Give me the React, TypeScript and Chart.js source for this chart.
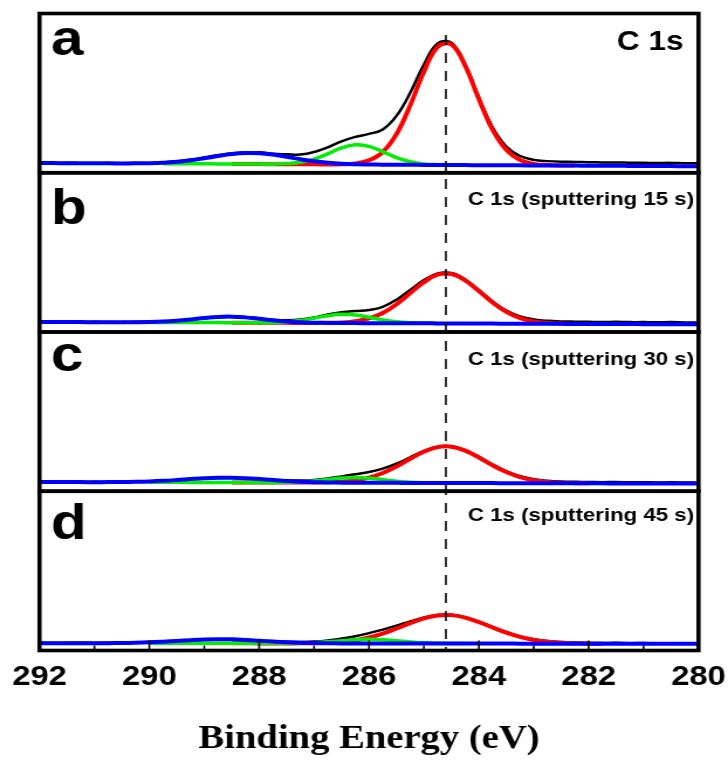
import React, { useEffect, useRef } from "react";
import { Chart, registerables } from "chart.js";
Chart.register(...registerables);

const N = null;

const energy = [292, 291.75, 291.5, 291.25, 291, 290.75, 290.5, 290.25, 290, 289.75, 289.5, 289.25, 289, 288.75, 288.5, 288.25, 288, 287.75, 287.5, 287.25, 287, 286.75, 286.5, 286.25, 286, 285.75, 285.5, 285.25, 285, 284.75, 284.5, 284.25, 284, 283.75, 283.5, 283.25, 283, 282.75, 282.5, 282.25, 282, 281.75, 281.5, 281.25, 281, 280.75, 280.5, 280.25, 280];

// Panel a
const blackA = [6.3, 5.9, 6.2, 6.0, 5.8, 6.1, 6.0, 6.1, 6.0, 6.5, 7.2, 8.1, 9.6, 11.0, 12.2, 12.6, 12.8, 11.9, 11.6, 11.4, 13.0, 16.0, 19.7, 22.5, 24.4, 27.2, 35.7, 50.2, 68.0, 81.2, 81.6, 68.2, 47.3, 28.5, 16.4, 10.5, 8.1, 7.3, 6.9, 6.8, 6.6, 6.5, 6.5, 6.3, 6.3, 6.1, 6.2, 6.0, 6.0];
const redA = [N, N, N, N, N, N, N, N, N, N, N, N, N, N, 5.52, 5.48, 5.43, 5.4, 5.35, 5.3, 5.27, 5.25, 5.3, 5.8, 7.8, 13.0, 24.2, 42.3, 63.4, 79.0, 80.5, 67.2, 46.3, 27.0, 14.4, 8.0, 5.6, 4.8, 4.55, 4.5, N, N, N, N, N, N, N, N, N];
const greenA = [N, N, N, N, N, N, N, N, N, 5.7, 5.7, 5.6, 5.6, 5.55, 5.5, 5.45, 5.45, 5.4, 5.75, 6.55, 8.57, 11.9, 15.6, 17.55, 16.6, 13.25, 9.5, 6.9, 5.55, 5.05, 4.85, N, N, N, N, N, N, N, N, N, N, N, N, N, N, N, N, N, N];
const blueA = [6.1, 6.06, 6.02, 5.98, 5.93, 5.9, 5.85, 5.9, 6.03, 6.33, 6.88, 7.84, 9.1, 10.5, 11.7, 12.4, 12.3, 11.4, 10.0, 8.5, 7.23, 6.29, 5.69, 5.36, 5.18, 5.05, 5.02, 4.98, 4.93, 4.9, 4.85, 4.8, 4.77, 4.73, 4.68, 4.64, 4.6, 4.56, 4.52, 4.48, 4.43, 4.39, 4.35, 4.31, 4.27, 4.23, 4.18, 4.14, 4.1];

// Panel b
const blackB = [6.5, 6.3, 6.4, 6.2, 6.4, 6.3, 6.2, 6.4, 6.4, 6.7, 7.1, 7.9, 8.7, 9.3, 9.5, 9.2, 8.5, 7.6, 7.4, 7.8, 9.1, 11.0, 12.4, 13.2, 13.8, 15.8, 20.3, 26.4, 32.6, 36.8, 37.0, 33.0, 26.3, 19.2, 13.4, 9.8, 7.9, 7.0, 6.6, 6.5, 6.4, 6.3, 6.4, 6.2, 6.2, 6.1, 6.2, 6.0, 6.0];
const redB = [N, N, N, N, N, N, N, N, N, N, N, N, N, N, 5.85, 5.83, 5.8, 5.77, 5.74, 5.71, 5.7, 5.77, 6.0, 6.77, 8.5, 11.9, 17.4, 24.4, 31.3, 36.0, 36.4, 32.4, 25.7, 18.5, 12.6, 8.7, 6.6, 5.65, 5.27, 5.08, 5.05, N, N, N, N, N, N, N, N];
const greenB = [N, N, N, N, N, N, N, N, 6.05, 6.02, 5.99, 5.96, 5.93, 5.89, 5.86, 5.83, 5.84, 5.96, 6.34, 7.24, 8.68, 10.24, 11.08, 10.66, 9.22, 7.58, 6.39, 5.77, 5.51, 5.4, N, N, N, N, N, N, N, N, N, N, N, N, N, N, N, N, N, N, N];
const blueB = [6.3, 6.27, 6.24, 6.21, 6.18, 6.15, 6.11, 6.15, 6.25, 6.53, 7.08, 7.88, 8.8, 9.49, 9.65, 9.18, 8.3, 7.33, 6.56, 6.07, 5.82, 5.68, 5.61, 5.58, 5.55, 5.52, 5.49, 5.46, 5.43, 5.4, 5.36, 5.33, 5.3, 5.27, 5.24, 5.2, 5.18, 5.15, 5.11, 5.08, 5.05, 5.02, 4.99, 4.96, 4.93, 4.89, 4.86, 4.83, 4.8];

// Panel c
const blackC = [6.0, 5.8, 5.9, 5.7, 5.9, 5.8, 5.9, 6.0, 6.1, 6.6, 7.0, 7.5, 8.0, 8.3, 8.4, 8.1, 7.7, 7.2, 6.8, 6.7, 7.1, 8.0, 9.3, 10.7, 12.1, 14.2, 17.3, 21.3, 25.3, 28.0, 28.2, 25.8, 21.6, 16.8, 12.5, 9.5, 7.6, 6.6, 6.1, 5.9, 5.8, 5.7, 5.8, 5.6, 5.7, 5.5, 5.6, 5.5, 5.4];
const redC = [N, N, N, N, N, N, N, N, N, N, N, N, N, N, 5.51, 5.49, 5.47, 5.45, 5.45, 5.43, 5.45, 5.59, 5.98, 6.88, 8.61, 11.49, 15.56, 20.37, 24.82, 27.7, 27.98, 25.55, 21.23, 16.31, 12.04, 8.87, 6.87, 5.81, 5.31, 5.08, 4.97, N, N, N, N, N, N, N, N];
const greenC = [N, N, N, N, N, N, N, N, 5.63, 5.61, 5.59, 5.57, 5.55, 5.53, 5.51, 5.49, 5.47, 5.48, 5.58, 5.85, 6.45, 7.36, 8.25, 8.62, 8.21, 7.28, 6.33, 5.69, 5.37, 5.23, 5.18, N, N, N, N, N, N, N, N, N, N, N, N, N, N, N, N, N, N];
const blueC = [5.8, 5.78, 5.76, 5.74, 5.72, 5.74, 5.79, 5.92, 6.16, 6.54, 7.05, 7.63, 8.15, 8.47, 8.48, 8.18, 7.65, 7.03, 6.45, 5.99, 5.69, 5.5, 5.4, 5.32, 5.3, 5.28, 5.26, 5.24, 5.22, 5.2, 5.18, 5.15, 5.13, 5.11, 5.09, 5.07, 5.05, 5.03, 5.01, 4.99, 4.97, 4.95, 4.93, 4.9, 4.88, 4.86, 4.84, 4.82, 4.8];

// Panel d
const blackD = [4.9, 4.7, 4.8, 4.9, 4.7, 4.9, 4.8, 5.0, 5.3, 5.6, 6.1, 6.5, 6.9, 7.0, 6.9, 6.6, 6.2, 5.8, 5.5, 5.4, 5.6, 6.3, 7.5, 9.0, 10.9, 13.1, 15.6, 18.3, 20.8, 22.3, 22.4, 20.9, 18.1, 14.8, 11.6, 8.9, 7.1, 5.9, 5.3, 5.0, 4.8, 4.7, 4.8, 4.6, 4.7, 4.5, 4.6, 4.5, 4.4];
const redD = [N, N, N, N, N, N, N, N, N, N, N, N, N, N, 4.48, 4.48, 4.47, 4.46, 4.45, 4.5, 4.61, 4.88, 5.42, 6.44, 8.14, 10.64, 13.79, 17.21, 20.21, 22.04, 22.21, 20.67, 17.83, 14.43, 11.16, 8.5, 6.62, 5.46, 4.8, 4.5, 4.35, 4.26, N, N, N, N, N, N, N];
const greenD = [N, N, N, N, N, N, N, N, 4.53, 4.53, 4.52, 4.51, 4.5, 4.49, 4.48, 4.48, 4.47, 4.48, 4.51, 4.64, 4.93, 5.46, 6.14, 6.76, 7.0, 6.74, 6.1, 5.41, 4.87, 4.56, 4.41, 4.34, N, N, N, N, N, N, N, N, N, N, N, N, N, N, N, N, N];
const blueD = [4.6, 4.59, 4.58, 4.58, 4.59, 4.62, 4.7, 4.85, 5.11, 5.51, 5.99, 6.5, 6.9, 7.08, 6.99, 6.65, 6.15, 5.63, 5.17, 4.84, 4.63, 4.52, 4.45, 4.41, 4.4, 4.39, 4.38, 4.38, 4.37, 4.36, 4.35, 4.34, 4.33, 4.33, 4.32, 4.31, 4.3, 4.29, 4.28, 4.28, 4.27, 4.26, 4.25, 4.24, 4.23, 4.23, 4.22, 4.21, 4.2];

const panelIds = ["ya", "yb", "yc", "yd"];
const panelLetters = ["a", "b", "c", "d"];
const panelTitles = ["C 1s", "C 1s (sputtering 15 s)", "C 1s (sputtering 30 s)", "C 1s (sputtering 45 s)"];
const xTickValues = [292, 290, 288, 286, 284, 282, 280];
const referenceEnergy = 284.6;
const axisTitle = "Binding Energy (eV)";

const panelSeries = [
  { black: blackA, red: redA, green: greenA, blue: blueA },
  { black: blackB, red: redB, green: greenB, blue: blueB },
  { black: blackC, red: redC, green: greenC, blue: blueC },
  { black: blackD, red: redD, green: greenD, blue: blueD },
];

const CANVAS_W = 622;
const CANVAS_H = 760;
const SANS = '"Liberation Sans", Arial, sans-serif';
const SERIF = '"Liberation Serif", "Times New Roman", serif';

const letterOffsets = [41.5, 51.25, 39, 47.75];
const titleOffsets = [36.5, 32.25, 33, 29.75];

function toPoints(arr: (number | null)[]) {
  return energy
    .map((x, i) => ({ x, y: arr[i] }))
    .filter((p) => p.y !== null) as { x: number; y: number }[];
}

const decorPlugin = {
  id: "decor",
  afterDatasetsDraw(chart: any) {
    const { ctx, chartArea: area, scales } = chart;
    const xs = scales.x;
    ctx.save();
    // dashed reference line
    const px = xs.getPixelForValue(referenceEnergy);
    ctx.strokeStyle = "#000";
    ctx.lineWidth = 1.6;
    ctx.setLineDash([10, 8]);
    ctx.beginPath();
    ctx.moveTo(px, 35);
    ctx.lineTo(px, area.bottom);
    ctx.stroke();
    ctx.setLineDash([]);
    // inward ticks on the bottom axis
    ctx.lineWidth = 1.6;
    for (let v = 280; v <= 292; v += 1) {
      const tx = xs.getPixelForValue(v);
      const len = v % 2 === 0 ? 10 : 5;
      ctx.beginPath();
      ctx.moveTo(tx, area.bottom);
      ctx.lineTo(tx, area.bottom - len);
      ctx.stroke();
    }
    // panel frames
    ctx.lineWidth = 3.6;
    ctx.lineJoin = "miter";
    panelIds.forEach((id) => {
      const s = scales[id];
      ctx.strokeRect(area.left, s.top, area.right - area.left, s.bottom - s.top);
    });
    // panel letters and titles
    ctx.fillStyle = "#000";
    ctx.textBaseline = "alphabetic";
    panelIds.forEach((id, i) => {
      const s = scales[id];
      ctx.font = `bold 50px ${SANS}`;
      ctx.textAlign = "left";
      ctx.fillText(panelLetters[i], 43.5, s.top + letterOffsets[i]);
      ctx.font = i === 0 ? `bold 27px ${SANS}` : `bold 19px ${SANS}`;
      ctx.textAlign = "right";
      ctx.fillText(panelTitles[i], i === 0 ? 584 : 593, s.top + titleOffsets[i]);
    });
    ctx.restore();
  },
};

export default function App() {
  const ref = useRef<HTMLCanvasElement | null>(null);
  useEffect(() => {
    if (!ref.current) return;
    const datasets: any[] = [];
    panelSeries.forEach((p, i) => {
      const yAxisID = panelIds[i];
      datasets.push({ data: toPoints(p.blue), yAxisID, borderColor: "#0000ff", borderWidth: 4, order: 1 });
      datasets.push({ data: toPoints(p.green), yAxisID, borderColor: "#00ee00", borderWidth: 3.5, order: 2 });
      datasets.push({ data: toPoints(p.red), yAxisID, borderColor: "#ff0000", borderWidth: 4, order: 3 });
      datasets.push({ data: toPoints(p.black), yAxisID, borderColor: "#000000", borderWidth: 2.5, order: 4 });
    });
    const yScale = (weight: number) => ({
      type: "linear",
      position: "left",
      stack: "panels",
      stackWeight: 1,
      weight,
      min: 0,
      max: 100,
      display: false,
    });
    const chart = new Chart(ref.current, {
      type: "line",
      data: { datasets },
      options: {
        responsive: false,
        animation: false,
        events: [],
        layout: { padding: { left: 33.75, right: 25.2, top: 13.5, bottom: 0 } },
        plugins: { legend: { display: false }, tooltip: { enabled: false } },
        elements: {
          point: { radius: 0 },
          line: { cubicInterpolationMode: "default", tension: 0.4, fill: false },
        },
        scales: {
          x: {
            type: "linear",
            position: "bottom",
            reverse: true,
            min: 280,
            max: 292,
            grid: { display: false, drawTicks: false },
            border: { display: false },
            afterBuildTicks: (s: any) => {
              s.ticks = xTickValues.map((v) => ({ value: v }));
            },
            ticks: {
              padding: 0,
              color: "#000",
              maxRotation: 0,
              autoSkip: false,
              font: { family: SANS, size: 28, weight: "bold", lineHeight: 1.893 },
            },
            title: {
              display: true,
              text: axisTitle,
              color: "#000",
              font: { family: SERIF, size: 33, weight: "bold" },
              padding: { top: 15.9, bottom: 1 },
            },
          },
          yd: yScale(1),
          yc: yScale(2),
          yb: yScale(3),
          ya: yScale(4),
        } as any,
      },
      plugins: [decorPlugin],
    } as any);
    return () => chart.destroy();
  }, []);
  return (
    <div style={{ position: "absolute", left: 0, top: 0, width: 728, height: 760, background: "#fff" }}>
      <canvas
        ref={ref}
        width={CANVAS_W}
        height={CANVAS_H}
        style={{ display: "block", width: "728px", height: "760px" }}
      />
    </div>
  );
}
